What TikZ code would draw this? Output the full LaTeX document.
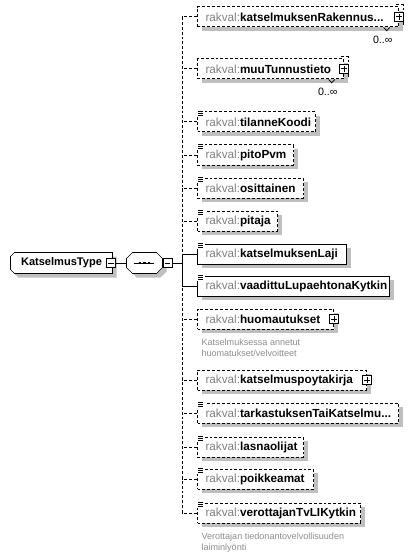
\documentclass[tikz,border=0pt]{standalone}
\usepackage{fontspec}
\setmainfont{Liberation Sans}
\usetikzlibrary{positioning,backgrounds,shadows}
\newcommand\rk[1]{\textcolor{black!50}{rakval:}\textbf{#1}}
\newcommand\simpleicon[1]{%
  \fill[white] ([xshift=-0.4pt,yshift=1.6pt]#1.north west) rectangle ([xshift=6pt,yshift=-4.2pt]#1.north west);
  \foreach \dy in {0.4,-1.1,-2.6}{\draw[line width=0.6pt] ([xshift=0.8pt,yshift=\dy pt]#1.north west) -- ++(4pt,0);}}

\begin{document}
\begin{tikzpicture}[x=0.75pt, y=-0.75pt, line width=0.75pt,
  elem/.style={draw, fill=white, anchor=west, align=left, inner xsep=6pt, inner ysep=0pt,
               minimum height=15pt, font=\fontsize{8.8}{10}\selectfont,
               general shadow={fill=black!25, shadow xshift=3pt, shadow yshift=-3pt}},
  opt/.style={elem, dash pattern=on 2.2pt off 1.5pt},
  dashline/.style={dash pattern=on 2.2pt off 1.5pt},
  holder/.style={minimum height=15pt, inner sep=0pt},
  shade/.style={fill=black!25, transform canvas={xshift=3pt, yshift=-3pt}},
  tog/.style={draw, solid, fill=white, minimum size=6.75pt, inner sep=0pt},
  minusbox/.style={tog, path picture={\draw ([xshift=1.3pt]path picture bounding box.west) -- ([xshift=-1.3pt]path picture bounding box.east);}},
  plusbox/.style={tog, path picture={\draw ([xshift=1.3pt]path picture bounding box.west) -- ([xshift=-1.3pt]path picture bounding box.east);
                                     \draw ([yshift=-1.3pt]path picture bounding box.north) -- ([yshift=1.3pt]path picture bounding box.south);}},
  desc/.style={anchor=north west, align=left, text=black!45, inner sep=0pt, font=\fontsize{6.8}{8}\selectfont},
  mult/.style={anchor=east, inner sep=0pt, font=\fontsize{8}{9}\selectfont}]
\useasboundingbox (0,0) rectangle (415,556);
% type and sequence
\node[holder, minimum width=75.75pt, font=\fontsize{8.3}{10}\selectfont\bfseries] (kt) at (61.5,263) {KatselmusType\hspace{6pt}};
\node[holder, minimum width=26.25pt] (seq) at (144.5,263) {};
\begin{scope}[on background layer]
\fill[shade] ([xshift=3pt]kt.north west) -- (kt.north east) -- (kt.south east) -- ([xshift=3pt]kt.south west)
  -- ([yshift=3pt]kt.south west) -- ([yshift=-3pt]kt.north west) -- cycle;
\draw[fill=white] ([xshift=3pt]kt.north west) -- (kt.north east) -- (kt.south east) -- ([xshift=3pt]kt.south west)
  -- ([yshift=3pt]kt.south west) -- ([yshift=-3pt]kt.north west) -- cycle;
\fill[shade] ([xshift=4.5pt]seq.north west) -- ([xshift=-4.5pt]seq.north east) -- ([yshift=-4.5pt]seq.north east)
  -- ([yshift=4.5pt]seq.south east) -- ([xshift=-4.5pt]seq.south east) -- ([xshift=4.5pt]seq.south west)
  -- ([yshift=4.5pt]seq.south west) -- ([yshift=-4.5pt]seq.north west) -- cycle;
\draw[fill=white] ([xshift=4.5pt]seq.north west) -- ([xshift=-4.5pt]seq.north east) -- ([yshift=-4.5pt]seq.north east)
  -- ([yshift=4.5pt]seq.south east) -- ([xshift=-4.5pt]seq.south east) -- ([xshift=4.5pt]seq.south west)
  -- ([yshift=4.5pt]seq.south west) -- ([yshift=-4.5pt]seq.north west) -- cycle;
\end{scope}
\draw ([xshift=-8pt]seq.center) -- ([xshift=7pt]seq.center);
\foreach \dx in {-3.5,0,3.5}{\fill ([xshift=\dx pt]seq.center) +(-0.9pt,-0.8pt) rectangle +(0.9pt,0.8pt);}
\node[minusbox] (ktm) at ([xshift=-1pt]kt.east) {};
\node[minusbox, anchor=west] (seqm) at (seq.east) {};
\coordinate (bus) at (182,263);
\draw (ktm.east) -- (seq.west);
\draw (seqm.east) -- (bus);
% children
\node[opt, text width=138.75pt] (e1) at (197,17) {\rk{katselmuksenRakennus...}};
\node[opt, text width=97.5pt] (e2) at (197,69) {\rk{muuTunnustieto}};
\node[opt, text width=76.5pt] (e3) at (197,122) {\rk{tilanneKoodi}};
\node[opt, text width=60pt] (e4) at (197,155) {\rk{pitoPvm}};
\node[opt, text width=67.5pt] (e5) at (197,188) {\rk{osittainen}};
\node[opt, text width=48pt] (e6) at (197,221) {\rk{pitaja}};
\node[elem, text width=99.75pt] (e7) at (197,254) {\rk{katselmuksenLaji}};
\node[elem, text width=132pt] (e8) at (197,286) {\rk{vaadittuLupaehtonaKytkin}};
\node[opt, text width=90pt] (e9) at (197,319) {\rk{huomautukset}};
\node[opt, text width=114.75pt] (e10) at (197,380) {\rk{katselmuspoytakirja}};
\node[opt, text width=138.75pt] (e11) at (197,413) {\rk{tarkastuksenTaiKatselmu...}};
\node[opt, text width=67.5pt] (e12) at (197,447) {\rk{lasnaolijat}};
\node[opt, text width=75pt] (e13) at (197,479) {\rk{poikkeamat}};
\node[opt, text width=110.25pt] (e14) at (197,513) {\rk{verottajanTvLIKytkin}};
\foreach \n in {e3,e4,e5,e6,e7,e8,e11,e12,e13,e14}{\simpleicon{\n}}
\node[plusbox] (p1) at (e1.east) {};
\node[plusbox] (p2) at (e2.east) {};
\node[plusbox] (p9) at (e9.east) {};
\node[plusbox] (p10) at (e10.east) {};
% repeated elements
\draw[dashline] ([xshift=-2pt,yshift=1.6pt]e1.north east) -| ([xshift=3pt,yshift=2pt]e1.south east);
\draw[dashline] ([xshift=-2pt,yshift=1.6pt]e2.north east) -| ([xshift=3pt,yshift=2pt]e2.south east);
\draw[line width=0.6pt] ([xshift=-11.5pt]e1.south east) -- ++(2.3pt,-2.4pt) -- ++(2.3pt,2.4pt);
\draw[line width=0.6pt] ([xshift=-11.5pt]e2.south east) -- ++(2.3pt,-2.4pt) -- ++(2.3pt,2.4pt);
\node[mult] (m1) at ([xshift=-4.5pt,yshift=-9pt]e1.south east) {0..∞};
\node[mult] (m2) at ([xshift=-4.5pt,yshift=-9pt]e2.south east) {0..∞};
% descriptions
\node[desc] (d9) at ([xshift=3pt,yshift=-7pt]e9.south west) {Katselmuksessa annetut\\huomatukset/velvoitteet};
\node[desc] (d14) at ([xshift=3pt,yshift=-7pt]e14.south west) {Verottajan tiedonantovelvollisuuden\\laiminlyönti};
% connectors
\draw[dashline] (e1.west) -| (bus |- e7.west);
\draw[dashline] (e14.west) -| (bus |- e8.west);
\draw (e7.west) -| (bus |- e8.west) -- (e8.west);
\foreach \n in {e2,e3,e4,e5,e6,e9,e10,e11,e12,e13}{\draw[dashline] (\n.west) -- (\n.west -| bus);}
\end{tikzpicture}
\end{document}
